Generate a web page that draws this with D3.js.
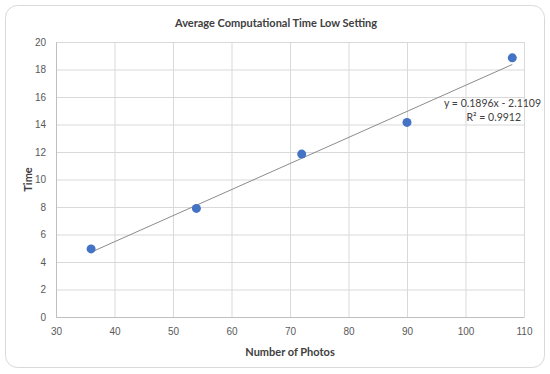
<!DOCTYPE html>
<html>
<head>
<meta charset="utf-8">
<script src="https://cdn.jsdelivr.net/npm/d3@7"></script>
<style>
  body { margin: 0; background: #fff; }
  svg { font-family: Lato, "Open Sans", sans-serif; }
</style>
</head>
<body>
<svg id="chart"></svg>
<script>
// data
const photos = [36, 54, 72, 90, 108];
const times = [4.95, 7.9, 11.85, 14.15, 18.85];
const xTicks = [30, 40, 50, 60, 70, 80, 90, 100, 110];
const yTicks = [0, 2, 4, 6, 8, 10, 12, 14, 16, 18, 20];
const slope = 0.1896, intercept = -2.1109, r2 = 0.9912;

const width = 550, height = 374;
const margin = { top: 42, right: 26, bottom: 57, left: 56 };
const innerW = width - margin.left - margin.right;
const innerH = height - margin.top - margin.bottom;

const svg = d3.select("#chart")
    .attr("width", width)
    .attr("height", height);

// outer frame
svg.append("rect")
    .attr("x", 5.5).attr("y", 5.5)
    .attr("width", width - 11).attr("height", height - 12)
    .attr("rx", 12)
    .attr("fill", "#fff")
    .attr("stroke", "#d9d9d9");

const g = svg.append("g")
    .attr("transform", `translate(${margin.left}, ${margin.top})`);

const x = d3.scaleLinear().domain([30, 110]).range([0, innerW]);
const y = d3.scaleLinear().domain([0, 20]).range([innerH, 0]);

// gridlines
g.append("g")
    .call(d3.axisLeft(y).tickValues(yTicks).tickSize(-innerW).tickFormat(""))
    .call(s => s.select(".domain").remove())
    .selectAll("line").attr("stroke", "#d9d9d9");
g.append("g")
    .attr("transform", `translate(0, ${innerH})`)
    .call(d3.axisBottom(x).tickValues(xTicks).tickSize(-innerH).tickFormat(""))
    .call(s => s.select(".domain").remove())
    .selectAll("line").attr("stroke", "#d9d9d9");

// axes
const xAxis = g.append("g")
    .attr("transform", `translate(0, ${innerH})`)
    .call(d3.axisBottom(x).tickValues(xTicks).tickSize(0).tickPadding(11));
const yAxis = g.append("g")
    .call(d3.axisLeft(y).tickValues(yTicks).tickSize(0).tickPadding(10));
[xAxis, yAxis].forEach(a => {
    a.select(".domain").attr("stroke", "#bfbfbf");
    a.selectAll("text").attr("fill", "#595959").style("font-size", "10px");
});

// trendline
g.append("line")
    .attr("x1", x(photos[0])).attr("y1", y(slope * photos[0] + intercept))
    .attr("x2", x(photos[photos.length - 1])).attr("y2", y(slope * photos[photos.length - 1] + intercept))
    .attr("stroke", "#8c8c8c")
    .attr("stroke-width", 1);

// points
g.selectAll(".dot")
    .data(photos.map((p, i) => ({ p: p, t: times[i] })))
    .enter()
    .append("circle")
    .attr("class", "dot")
    .attr("cx", d => x(d.p))
    .attr("cy", d => y(d.t))
    .attr("r", 4.5)
    .attr("fill", "#4472c4");

// equation label
const eq = g.append("text")
    .attr("x", 485)
    .attr("y", 65)
    .attr("text-anchor", "end")
    .attr("fill", "#404040")
    .style("font-size", "10.5px");
eq.append("tspan").attr("x", x(110) + 17).text(`y = ${slope}x - ${Math.abs(intercept)}`);
eq.append("tspan").attr("x", x(110) - 3).attr("dy", 14).text("R² = " + r2);

// titles
svg.append("text")
    .attr("x", 276).attr("y", 27)
    .attr("text-anchor", "middle")
    .attr("fill", "#404040")
    .style("font-size", "11px")
    .style("font-weight", "bold")
    .text("Average Computational Time Low Setting");

svg.append("text")
    .attr("x", margin.left + innerW / 2).attr("y", 356)
    .attr("text-anchor", "middle")
    .attr("fill", "#404040")
    .style("font-size", "11px")
    .style("font-weight", "bold")
    .text("Number of Photos");

svg.append("text")
    .attr("transform", `translate(32, ${margin.top + innerH / 2}) rotate(-90)`)
    .attr("text-anchor", "middle")
    .attr("fill", "#404040")
    .style("font-size", "11px")
    .style("font-weight", "bold")
    .text("Time");
</script>
</body>
</html>
